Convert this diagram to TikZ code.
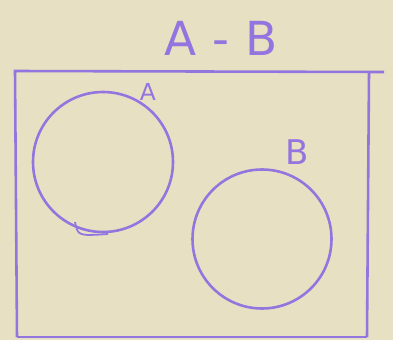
\documentclass[tikz,border=0pt]{standalone}
\usepackage{fontspec}
\setsansfont{DejaVu Sans}
\usepackage{tikz}
\definecolor{paperY}{RGB}{231,224,194}
\definecolor{inkP}{RGB}{148,116,222}

\begin{document}
\begin{tikzpicture}[x=0.03cm, y=-0.03cm, line width=2.2pt, every node/.style={font=\sffamily, text=inkP}]
% paper
\fill[paperY] (0,0) rectangle (393,340);
\useasboundingbox (0,0) rectangle (393,340);
% title
\node[font=\sffamily\fontsize{40}{44}\selectfont] (title) at (221,38) {A\hspace{0.35em}-\hspace{0.35em}B};
% universe box
\coordinate (ul) at (15,71);
\coordinate (ur) at (369,73);
\coordinate (lr) at (367,337);
\coordinate (ll) at (17,337);
\coordinate (tail) at (384,72);
\draw[inkP] (ll) -- (ul) -- (tail);
\draw[inkP] (ur) -- (lr);
\draw[inkP] (ll) -- (lr);
% the two sets
\node[draw=inkP, circle, minimum size=140*0.03cm, inner sep=0pt] (setA) at (103,162) {};
\node[draw=inkP, circle, minimum size=139*0.03cm, inner sep=0pt] (setB) at (262,239) {};
\node[font=\sffamily\fontsize{20}{22}\selectfont] (labA) at (148,92) {A};
\node[font=\sffamily\fontsize{29}{32}\selectfont] (labB) at (297,152) {B};
\coordinate (hookA) at (75,222);
\coordinate (hookB) at (108,234);
\draw[inkP, line width=1.5pt] (hookA) .. controls (78,236) .. (hookB);
\end{tikzpicture}
\end{document}
